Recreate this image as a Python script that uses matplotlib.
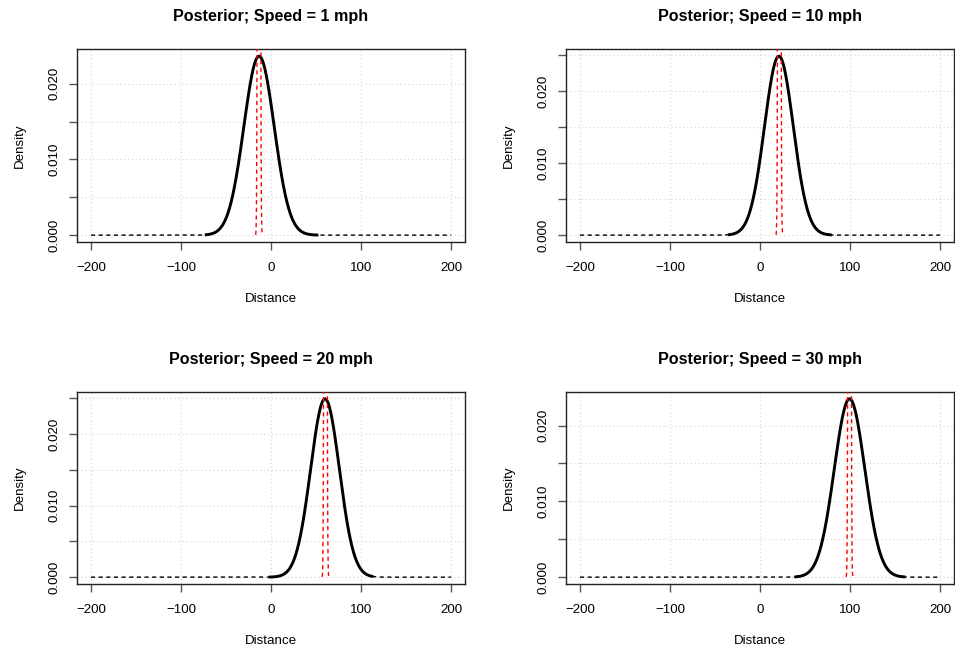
import matplotlib
matplotlib.use("Agg")
import matplotlib.pyplot as plt
import numpy as np
from matplotlib.ticker import MultipleLocator, FuncFormatter

plt.rcParams['font.family'] = ['Liberation Sans', 'DejaVu Sans']

# values
speeds = [1, 10, 20, 30]
post_mean = [-13.3, 21.0, 60.0, 99.5]        # centre of posterior predictive
post_peak = [0.02364, 0.02490, 0.02495, 0.02352]  # peak density
solid_lo = [-72, -34, -1, 40]                # range covered by the solid curve
solid_hi = [51, 78, 112, 160]
mu_mean = [-13.4, 21.5, 60.5, 99.5]          # red (mean) density centre
mu_sd = [0.9, 0.9, 0.9, 0.9]
x_range = (-200, 200)

W, H = 955, 652
# axes boxes in pixels: (left, top, right, bottom)
boxes = [(76.6, 49.0, 465.4, 242.3), (565.6, 49.0, 954.4, 242.3),
         (76.6, 391.7, 465.4, 584.3), (565.6, 391.7, 954.4, 584.3)]

fig = plt.figure(figsize=(W / 100, H / 100), dpi=100)


def npdf(x, m, s):
    return np.exp(-0.5 * ((x - m) / s) ** 2) / (s * np.sqrt(2 * np.pi))


for i in range(4):
    l, t, r, b = boxes[i]
    ax = fig.add_axes([l / W, 1 - b / H, (r - l) / W, (b - t) / H])
    sd = 1 / (post_peak[i] * np.sqrt(2 * np.pi))

    xs = np.linspace(x_range[0], x_range[1], 801)
    ys = npdf(xs, post_mean[i], sd)
    ax.plot(xs, ys, color='black', lw=1.0, dashes=(3, 2.5), zorder=3)
    xs2 = np.linspace(solid_lo[i], solid_hi[i], 400)
    ys2 = npdf(xs2, post_mean[i], sd)
    ax.plot(xs2, ys2, color='black', lw=2.1, zorder=4)
    xm = np.linspace(mu_mean[i] - 4.3 * mu_sd[i], mu_mean[i] + 4.3 * mu_sd[i], 300)
    ax.plot(xm, npdf(xm, mu_mean[i], mu_sd[i]), color='red', lw=1.0,
            dashes=(3, 2.5), zorder=5)

    # R-style 4% expansion of the black curves' range
    xr = x_range[1] - x_range[0]
    ax.set_xlim(x_range[0] - 0.04 * xr, x_range[1] + 0.04 * xr)
    ymax = max(ys.max(), ys2.max())
    ax.set_ylim(-0.04 * ymax, 1.04 * ymax)

    ax.xaxis.set_major_locator(MultipleLocator(100))
    ax.yaxis.set_major_locator(MultipleLocator(0.005))
    ax.yaxis.set_major_formatter(FuncFormatter(
        lambda v, p: "%.3f" % v if abs(round(v / 0.005)) % 2 == 0 else ""))
    ax.xaxis.set_major_formatter(FuncFormatter(
        lambda v, p: ("\u2212%d" % -v) if v < 0 else "%d" % v))
    ax.grid(True, color='#d3d3d3', linestyle=(0, (1, 2.5)), lw=0.8)
    ax.set_axisbelow(True)
    ax.tick_params(direction='out', length=6, width=1, color='#555555',
                   labelsize=9.6)
    ax.tick_params(axis='x', pad=8.5)
    ax.tick_params(axis='y', pad=5.5)
    for lab in ax.get_yticklabels():
        lab.set_rotation(90)
        lab.set_va('center')
    for s in ax.spines.values():
        s.set_linewidth(1)
        s.set_color('#222222')

    hpx = b - t
    ax.set_xlabel('Distance', fontsize=9.6, va='center')
    ax.xaxis.set_label_coords(0.5, -57 / hpx)
    ax.set_ylabel('Density', fontsize=9.6, va='center', ha='center')
    ax.yaxis.set_label_coords(-57 / (r - l), 0.5)
    ax.text(0.5, 1 + 32.3 / hpx, 'Posterior; Speed = %d mph' % speeds[i],
            transform=ax.transAxes, ha='center', va='center',
            fontsize=11.6, fontweight='bold')

fig.savefig('out.png', dpi=100)
